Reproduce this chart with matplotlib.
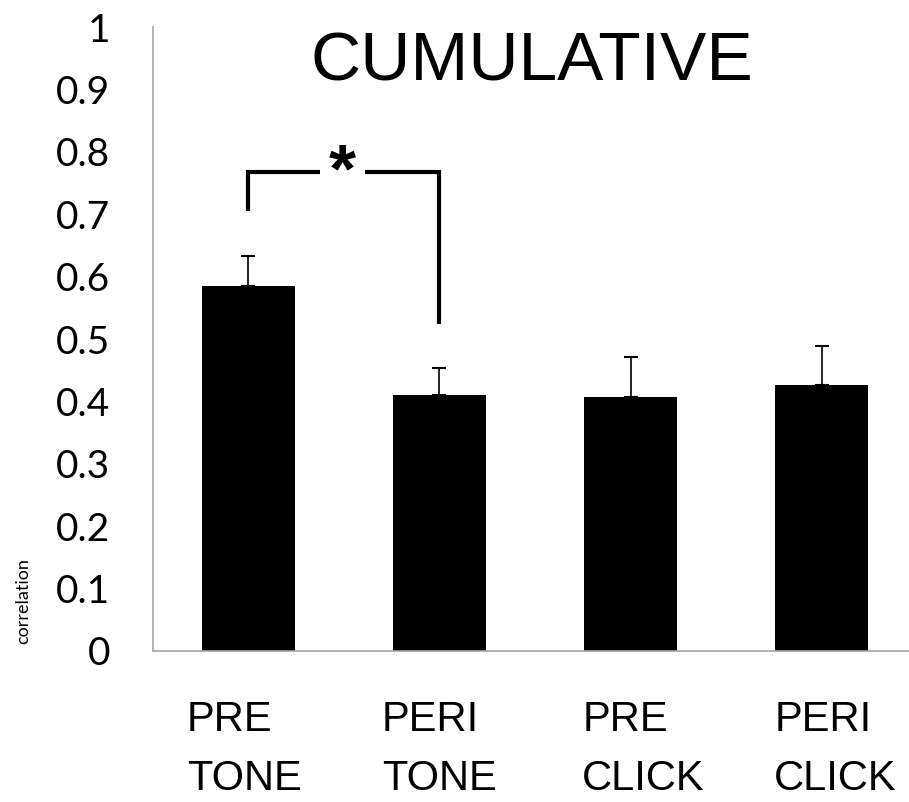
import numpy as np
import matplotlib.pyplot as plt
import matplotlib.transforms as mtransforms

# values
groups = ["PRE\nTONE", "PERI\nTONE", "PRE\nCLICK", "PERI\nCLICK"]
means = [0.585, 0.410, 0.407, 0.426]
errs = [0.048, 0.043, 0.064, 0.063]
yticks = [0, 0.1, 0.2, 0.3, 0.4, 0.5, 0.6, 0.7, 0.8, 0.9, 1]
ytick_labels = ["0", "0.1", "0.2", "0.3", "0.4", "0.5", "0.6", "0.7", "0.8", "0.9", "1"]

fig = plt.figure(figsize=(9.09, 8.02), dpi=100)
ax = fig.add_axes([0.1683, 0.1883, 0.8317, 0.778])

x = np.arange(len(groups))
ax.bar(x, means, width=0.49, color="black")
ax.errorbar(x, means, yerr=[np.zeros(len(errs)), errs], fmt="none",
            ecolor="black", elinewidth=1.2, capsize=5, capthick=1.5)

ax.set_xlim(-0.5, 3.458)
ax.set_ylim(0, 1)
ax.set_yticks(yticks)
ax.set_yticklabels(ytick_labels, fontsize=28, family="Lato")
ax.set_xticks(x)
ax.set_xticklabels(groups, fontsize=30, family="Liberation Sans",
                   linespacing=1.62, multialignment="left")
ax.tick_params(axis="y", length=0, pad=31)
ax.tick_params(axis="x", length=0, pad=35)

# nudge the category labels a little, as in the original layout
shifts = [-4, 0, 13, 14]
for lab, dx in zip(ax.get_xticklabels(), shifts):
    lab.set_transform(lab.get_transform() +
                      mtransforms.ScaledTranslation(dx / 100, 0, fig.dpi_scale_trans))

for s in ["top", "right"]:
    ax.spines[s].set_visible(False)
for s in ["left", "bottom"]:
    ax.spines[s].set_color("#a6a6a6")
    ax.spines[s].set_linewidth(1.2)

# significance bracket
ax.plot([0, 0, 0.375], [0.705, 0.768, 0.768], color="black", lw=3,
        solid_capstyle="butt", solid_joinstyle="miter")
ax.plot([0.61, 1, 1], [0.768, 0.768, 0.524], color="black", lw=3,
        solid_capstyle="butt", solid_joinstyle="miter")
ax.text(0.49, 0.765, "*", fontsize=50, fontweight="bold", ha="center",
        va="center", family="Liberation Sans")

ax.text(0.501, 0.943, "CUMULATIVE", transform=ax.transAxes, ha="center",
        va="center", fontsize=50, family="Liberation Sans")

fig.text(0.026, 0.25, "correlation", rotation=90, ha="center", va="center",
         fontsize=13, family="Lato")

fig.savefig("out.png", dpi=100)
